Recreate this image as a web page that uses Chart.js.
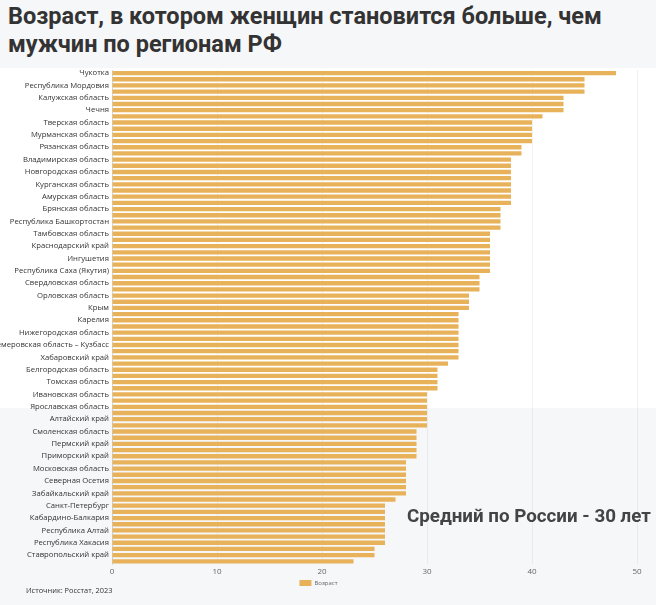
<!DOCTYPE html>
<html><head><meta charset="utf-8">
<script src="https://cdn.jsdelivr.net/npm/chart.js@4.4.1/dist/chart.umd.min.js"></script>
<style>
html,body{margin:0;padding:0;width:656px;height:605px;background:#f6f7f9;overflow:hidden;}
#title{position:absolute;left:8px;top:2px;width:648px;font-family:Roboto,sans-serif;font-weight:bold;font-size:23.5px;line-height:28px;color:#333;}
#band{position:absolute;left:0;top:68px;width:656px;height:340px;background:#fff;}
#wrap{position:absolute;left:0;top:60px;width:656px;height:545px;}
#avg{position:absolute;left:407px;top:505px;font-family:Roboto,sans-serif;font-weight:bold;font-size:18.8px;color:#444;white-space:nowrap;}
#src{position:absolute;left:26px;top:585px;font-family:'Open Sans',sans-serif;font-size:7.4px;color:#333;white-space:nowrap;}
</style></head>
<body>
<div id="title">Возраст, в котором женщин становится больше, чем мужчин по регионам РФ</div>
<div id="band"></div>
<div id="wrap"><canvas id="c" width="656" height="545"></canvas></div>
<div id="avg">Средний по России - 30 лет</div>
<div id="src">Источник: Росстат, 2023</div>
<script>
// Labelled regions (every second category; the ones in between are unlabelled in the source picture)
const visibleRegions = [
  'Чукотка','Республика Мордовия','Калужская область','Чечня','Тверская область',
  'Мурманская область','Рязанская область','Владимирская область','Новгородская область','Курганская область',
  'Амурская область','Брянская область','Республика Башкортостан','Тамбовская область','Краснодарский край',
  'Ингушетия','Республика Саха (Якутия)','Свердловская область','Орловская область','Крым',
  'Карелия','Нижегородская область','Кемеровская область – Кузбасс','Хабаровский край','Белгородская область',
  'Томская область','Ивановская область','Ярославская область','Алтайский край','Смоленская область',
  'Пермский край','Приморский край','Московская область','Северная Осетия','Забайкальский край',
  'Санкт-Петербург','Кабардино-Балкария','Республика Алтай','Республика Хакасия','Ставропольский край'
];
// Age values, one per bar (80 bars)
const ageValues = [
  48,45,45,45,43,43,43,41,40,40,
  40,40,39,39,38,38,38,38,38,38,
  38,38,37,37,37,37,36,36,36,36,
  36,36,36,35,35,35,34,34,34,33,
  33,33,33,33,33,33,33,32,31,31,
  31,31,30,30,30,30,30,30,29,29,
  29,29,29,28,28,28,28,28,28,27,
  26,26,26,26,26,26,26,25,25,23
];
const seriesName = 'Возраст';
const xTicks = [0,10,20,30,40,50];

const categories = [];
visibleRegions.forEach(r => { categories.push(r); categories.push(''); });
</script>
<script>
new Chart(document.getElementById('c'), {
  type: 'bar',
  data: {
    labels: categories,
    datasets: [{
      label: seriesName,
      data: ageValues,
      backgroundColor: '#E8B25A',
      borderWidth: 0,
      barPercentage: 0.9,
      categoryPercentage: 0.78
    }]
  },
  options: {
    indexAxis: 'y',
    responsive: false,
    animation: false,
    layout: { padding: { top: 10, right: 19, bottom: 9, left: 0 } },
    plugins: {
      legend: {
        position: 'bottom',
        labels: { boxWidth: 12, boxHeight: 6, font: { family: 'Open Sans', size: 6 }, color: '#666', padding: 0 }
      },
      tooltip: { enabled: false }
    },
    scales: {
      x: {
        min: 0, max: 50,
        afterBuildTicks: s => { s.ticks = xTicks.map(v => ({ value: v })); },
        grid: { color: 'rgba(0,0,0,0.05)', drawTicks: false },
        border: { display: false },
        ticks: { font: { family: 'Open Sans', size: 8 }, color: '#666', padding: 3 }
      },
      y: {
        afterFit: s => { s.width = 112; },
        grid: { display: false, drawTicks: false },
        border: { display: true, color: 'rgba(0,0,0,0.12)' },
        ticks: { autoSkip: false, font: { family: 'Open Sans', size: 7.7 }, color: '#333', padding: 3 }
      }
    }
  }
});
</script>
</body></html>
